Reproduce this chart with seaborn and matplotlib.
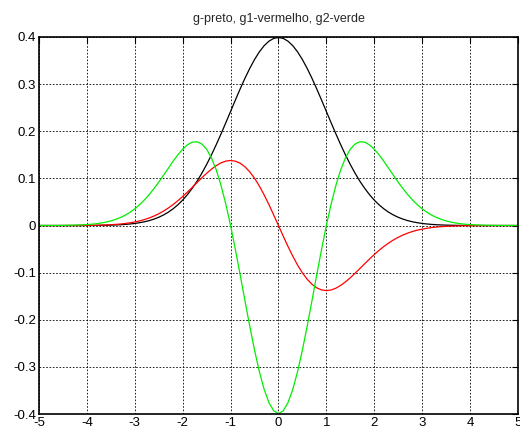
import matplotlib
matplotlib.use("Agg")
import matplotlib.pyplot as plt
import seaborn as sns
import pandas as pd

# values, x from -5 to 5 in steps of 0.1
x = [-5.0, -4.9, -4.8, -4.7, -4.6, -4.5, -4.4, -4.3, -4.2, -4.1,
     -4.0, -3.9, -3.8, -3.7, -3.6, -3.5, -3.4, -3.3, -3.2, -3.1,
     -3.0, -2.9, -2.8, -2.7, -2.6, -2.5, -2.4, -2.3, -2.2, -2.1,
     -2.0, -1.9, -1.8, -1.7, -1.6, -1.5, -1.4, -1.3, -1.2, -1.1,
     -1.0, -0.9, -0.8, -0.7, -0.6, -0.5, -0.4, -0.3, -0.2, -0.1,
     0.0,
     0.1, 0.2, 0.3, 0.4, 0.5, 0.6, 0.7, 0.8, 0.9, 1.0,
     1.1, 1.2, 1.3, 1.4, 1.5, 1.6, 1.7, 1.8, 1.9, 2.0,
     2.1, 2.2, 2.3, 2.4, 2.5, 2.6, 2.7, 2.8, 2.9, 3.0,
     3.1, 3.2, 3.3, 3.4, 3.5, 3.6, 3.7, 3.8, 3.9, 4.0,
     4.1, 4.2, 4.3, 4.4, 4.5, 4.6, 4.7, 4.8, 4.9, 5.0]

g = [0.0, 0.0, 0.0, 0.0, 0.0, 0.0, 0.0, 0.0, 0.0001, 0.0001,
     0.0001, 0.0002, 0.0003, 0.0004, 0.0006, 0.0009, 0.0012, 0.0017, 0.0024, 0.0033,
     0.0044, 0.0060, 0.0079, 0.0104, 0.0136, 0.0175, 0.0224, 0.0283, 0.0355, 0.0440,
     0.0540, 0.0656, 0.0790, 0.0940, 0.1109, 0.1295, 0.1497, 0.1714, 0.1942, 0.2179,
     0.2420, 0.2661, 0.2897, 0.3123, 0.3332, 0.3521, 0.3683, 0.3814, 0.3910, 0.3970,
     0.3989,
     0.3970, 0.3910, 0.3814, 0.3683, 0.3521, 0.3332, 0.3123, 0.2897, 0.2661, 0.2420,
     0.2179, 0.1942, 0.1714, 0.1497, 0.1295, 0.1109, 0.0940, 0.0790, 0.0656, 0.0540,
     0.0440, 0.0355, 0.0283, 0.0224, 0.0175, 0.0136, 0.0104, 0.0079, 0.0060, 0.0044,
     0.0033, 0.0024, 0.0017, 0.0012, 0.0009, 0.0006, 0.0004, 0.0003, 0.0002, 0.0001,
     0.0001, 0.0001, 0.0, 0.0, 0.0, 0.0, 0.0, 0.0, 0.0, 0.0]

g1 = [0.0, 0.0, 0.0, 0.0, 0.0, 0.0, 0.0001, 0.0001, 0.0001, 0.0002,
      0.0003, 0.0004, 0.0006, 0.0009, 0.0013, 0.0017, 0.0024, 0.0032, 0.0044, 0.0058,
      0.0076, 0.0098, 0.0126, 0.0160, 0.0201, 0.0250, 0.0306, 0.0372, 0.0445, 0.0527,
      0.0616, 0.0711, 0.0810, 0.0912, 0.1012, 0.1108, 0.1195, 0.1270, 0.1329, 0.1367,
      0.1380, 0.1366, 0.1322, 0.1246, 0.1140, 0.1004, 0.0840, 0.0652, 0.0446, 0.0226,
      0.0,
      -0.0226, -0.0446, -0.0652, -0.0840, -0.1004, -0.1140, -0.1246, -0.1322, -0.1366, -0.1380,
      -0.1367, -0.1329, -0.1270, -0.1195, -0.1108, -0.1012, -0.0912, -0.0810, -0.0711, -0.0616,
      -0.0527, -0.0445, -0.0372, -0.0306, -0.0250, -0.0201, -0.0160, -0.0126, -0.0098, -0.0076,
      -0.0058, -0.0044, -0.0032, -0.0024, -0.0017, -0.0013, -0.0009, -0.0006, -0.0004, -0.0003,
      -0.0002, -0.0001, -0.0001, -0.0001, 0.0, 0.0, 0.0, 0.0, 0.0, 0.0]

g2 = [0.0, 0.0001, 0.0001, 0.0001, 0.0002, 0.0003, 0.0005, 0.0007, 0.0010, 0.0014,
      0.0020, 0.0028, 0.0039, 0.0054, 0.0073, 0.0098, 0.0130, 0.0170, 0.0220, 0.0281,
      0.0355, 0.0441, 0.0541, 0.0655, 0.0783, 0.0920, 0.1066, 0.1214, 0.1363, 0.1500,
      0.1620, 0.1712, 0.1770, 0.1777, 0.1730, 0.1619, 0.1437, 0.1183, 0.0854, 0.0458,
      0.0, -0.0506, -0.1043, -0.1593, -0.2132, -0.2641, -0.3094, -0.3471, -0.3754, -0.3930,
      -0.3989,
      -0.3930, -0.3754, -0.3471, -0.3094, -0.2641, -0.2132, -0.1593, -0.1043, -0.0506, 0.0,
      0.0458, 0.0854, 0.1183, 0.1437, 0.1619, 0.1730, 0.1777, 0.1770, 0.1712, 0.1620,
      0.1500, 0.1363, 0.1214, 0.1066, 0.0920, 0.0783, 0.0655, 0.0541, 0.0441, 0.0355,
      0.0281, 0.0220, 0.0170, 0.0130, 0.0098, 0.0073, 0.0054, 0.0039, 0.0028, 0.0020,
      0.0014, 0.0010, 0.0007, 0.0005, 0.0003, 0.0002, 0.0001, 0.0001, 0.0001, 0.0]

xticks = [-5, -4, -3, -2, -1, 0, 1, 2, 3, 4, 5]
yticks = [-0.4, -0.3, -0.2, -0.1, 0, 0.1, 0.2, 0.3, 0.4]
ytick_labels = ['-0.4', '-0.3', '-0.2', '-0.1', '0', '0.1', '0.2', '0.3', '0.4']

sns.set_style("white")
plt.rcParams['font.family'] = ['Liberation Sans', 'DejaVu Sans']

df = pd.DataFrame({'x': x, 'g': g, 'g1': g1, 'g2': g2})

fig = plt.figure(figsize=(5.2, 4.3), dpi=100)
ax = fig.add_axes([0.075, 0.037, 0.921, 0.877])

sns.lineplot(data=df, x='x', y='g', color='black', lw=0.9, ax=ax)
sns.lineplot(data=df, x='x', y='g1', color='#ff0000', lw=0.9, ax=ax)
sns.lineplot(data=df, x='x', y='g2', color='#00ee00', lw=0.9, ax=ax)

ax.set_xlim(-5, 5)
ax.set_ylim(-0.4, 0.4)
ax.set_xticks(xticks)
ax.set_xticklabels([str(t) for t in xticks])
ax.set_yticks(yticks)
ax.set_yticklabels(ytick_labels)
ax.set_xlabel('')
ax.set_ylabel('')
ax.grid(True, color='black', linestyle=(0, (2, 2)), linewidth=0.6)
ax.set_axisbelow(True)
for s in ax.spines.values():
    s.set_color('black')
    s.set_linewidth(1.2)
ax.tick_params(direction='in', length=4, width=0.8, top=True, right=True,
               labelsize=9.5, colors='black', pad=2)
ax.set_title('g-preto, g1-vermelho, g2-verde', fontsize=9, pad=11)

fig.savefig('out.png', dpi=100)
